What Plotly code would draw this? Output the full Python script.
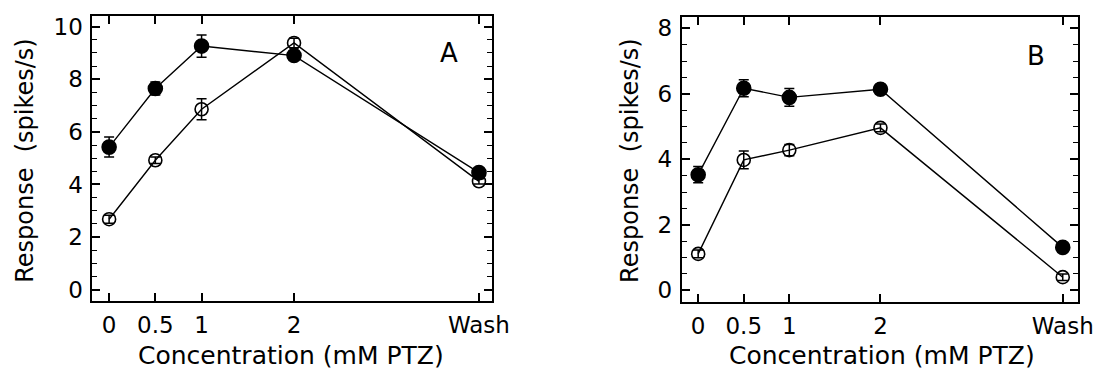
import plotly.graph_objects as go

W, H = 1111, 371

# ---- data ----
categories = ["0", "0.5", "1", "2", "Wash"]
xpos = [0, 0.5, 1, 2, 4]

a_filled = [5.42, 7.65, 9.26, 8.90, 4.45]
a_filled_err = [0.38, 0.25, 0.42, 0.15, 0.15]
a_open = [2.68, 4.92, 6.86, 9.38, 4.12]
a_open_err = [0.15, 0.12, 0.40, 0.18, 0.10]

b_filled = [3.53, 6.17, 5.89, 6.14, 1.31]
b_filled_err = [0.25, 0.26, 0.27, 0.15, 0.08]
b_open = [1.11, 3.98, 4.28, 4.96, 0.40]
b_open_err = [0.12, 0.27, 0.17, 0.12, 0.10]

FONT = "DejaVu Sans"

fig = go.Figure()

def add_series(x_ref, y_ref, y, err, filled):
    fig.add_trace(go.Scatter(
        x=xpos, y=y, xaxis=x_ref, yaxis=y_ref, mode="lines+markers",
        line=dict(color="black", width=1.4),
        marker=dict(symbol="circle" if filled else "circle-open",
                    size=14 if filled else 13, color="black",
                    line=dict(color="black", width=1.6)),
        error_y=dict(type="data", array=err, visible=True, color="black",
                     thickness=1.5, width=5),
        showlegend=False, hoverinfo="skip"))

add_series("x", "y", a_open, a_open_err, False)
add_series("x", "y", a_filled, a_filled_err, True)
add_series("x2", "y2", b_open, b_open_err, False)
add_series("x2", "y2", b_filled, b_filled_err, True)

def xd(l, r):
    return [l / W, r / W]

def yd(t, b):
    return [1 - b / H, 1 - t / H]

axis_common = dict(showline=True, linecolor="black", linewidth=2, mirror="allticks",
                   ticks="inside", ticklen=8, tickwidth=1.5, tickcolor="black",
                   showgrid=False, zeroline=False,
                   tickfont=dict(family=FONT, size=23, color="black"))

fig.update_layout(
    width=W, height=H, margin=dict(l=0, r=0, t=0, b=0),
    paper_bgcolor="white", plot_bgcolor="white",
    xaxis=dict(domain=xd(94, 500), range=[-0.18, 4.14], anchor="y",
               tickvals=xpos, ticktext=categories, ticklabelstandoff=3, **axis_common),
    yaxis=dict(domain=yd(14, 302), range=[-0.42, 10.41], anchor="x",
               tickvals=[0, 2, 4, 6, 8, 10], ticklabelstandoff=3,
               minor=dict(ticks="inside", dtick=0.5, ticklen=5, tickwidth=1.2, tickcolor="black"),
               **axis_common),
    xaxis2=dict(domain=xd(693, 1096), range=[-0.18, 4.17], anchor="y2",
                tickvals=xpos, ticktext=categories, ticklabelstandoff=3, **axis_common),
    yaxis2=dict(domain=yd(15, 303), range=[-0.35, 8.35], anchor="x2",
                tickvals=[0, 2, 4, 6, 8], ticklabelstandoff=3,
                minor=dict(ticks="inside", dtick=0.5, ticklen=5, tickwidth=1.2, tickcolor="black"),
                **axis_common),
)

def ann(text, x, y, size, angle=0):
    fig.add_annotation(text=text, x=x / W, y=1 - y / H, xref="paper", yref="paper",
                       showarrow=False, textangle=angle, xanchor="center", yanchor="middle",
                       font=dict(family=FONT, size=size, color="black"))

ann("Concentration (mM PTZ)", 296, 357, 25)
ann("Concentration (mM PTZ)", 897, 357, 25)
ann("Response  (spikes/s)", 26, 160, 24, -90)
ann("Response  (spikes/s)", 641, 160, 24, -90)
ann("A", 456, 52, 26)
ann("B", 1053, 55, 26)

fig.write_html("out.html")
